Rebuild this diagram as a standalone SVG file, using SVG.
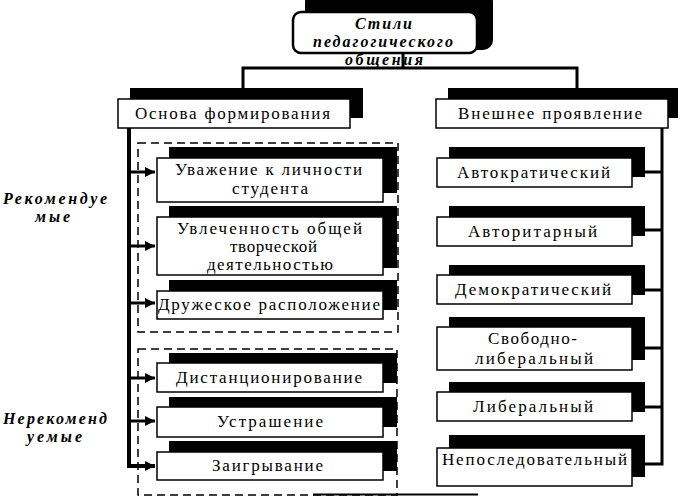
<svg xmlns="http://www.w3.org/2000/svg" width="681" height="498" viewBox="0 0 681 498">
<style>
.sh{fill:#000}
.bx{fill:#fff;stroke:#000;stroke-width:1.5}
.t{font-family:"Liberation Serif","Times New Roman",serif;font-size:17px;fill:#000}
.ti{font-family:"Liberation Serif","Times New Roman",serif;font-size:16px;font-weight:bold;font-style:italic;fill:#000}
.ln{stroke:#000;stroke-width:3;fill:none}
.dash{fill:none;stroke:#000;stroke-width:1.5;stroke-dasharray:8,5}
</style>
<defs>
<marker id="ah" viewBox="0 0 10 10" refX="10" refY="5" markerWidth="10" markerHeight="10" markerUnits="userSpaceOnUse" orient="auto">
<path d="M0,0 L10,5 L0,10 Z" fill="#000"/>
</marker>
</defs>
<rect width="681" height="498" fill="#fff"/>

<g id="connectors">
<line class="ln" x1="403" y1="53" x2="403" y2="68"/>
<polyline class="ln" points="243,88 243,68 577,68 577,88"/>
<polyline points="129,128 129,466 155,466" fill="none" stroke="#000" stroke-width="4" marker-end="url(#ah)"/>
<line class="ln" x1="129" y1="172" x2="155" y2="172" marker-end="url(#ah)"/>
<line class="ln" x1="129" y1="246" x2="155" y2="246" marker-end="url(#ah)"/>
<line class="ln" x1="129" y1="303" x2="155" y2="303" marker-end="url(#ah)"/>
<line class="ln" x1="129" y1="378" x2="155" y2="378" marker-end="url(#ah)"/>
<line class="ln" x1="129" y1="421" x2="155" y2="421" marker-end="url(#ah)"/>
<polyline class="ln" points="662,128 662,464 645,464"/>
<line class="ln" x1="645" y1="172" x2="662" y2="172"/>
<line class="ln" x1="645" y1="230" x2="662" y2="230"/>
<line class="ln" x1="645" y1="290" x2="662" y2="290"/>
<line class="ln" x1="645" y1="348" x2="662" y2="348"/>
<line class="ln" x1="645" y1="407" x2="662" y2="407"/>
<line x1="313" y1="494.5" x2="478" y2="494.5" stroke="#000" stroke-width="2"/>
</g>

<rect class="dash" x="138" y="143" width="260" height="189"/>
<rect class="dash" x="138" y="349" width="259" height="146"/>

<g id="title">
<rect class="sh" x="305" y="-8" width="188" height="58" rx="10"/>
<rect x="293" y="12" width="184" height="41" rx="8" fill="#fff" stroke="#000" stroke-width="2.5"/>
<text class="ti" x="355" y="29" textLength="57" lengthAdjust="spacing">Стили</text>
<text class="ti" x="313" y="47" textLength="140" lengthAdjust="spacing">педагогического</text>
<text class="ti" x="345" y="65" textLength="78" lengthAdjust="spacing">общения</text>
</g>

<g id="h-left">
<rect class="sh" x="130" y="88" width="233" height="30"/>
<rect class="bx" x="118" y="99" width="232" height="29"/>
<text class="t" x="135" y="119" textLength="195" lengthAdjust="spacing">Основа формирования</text>
</g>
<g id="h-right">
<rect class="sh" x="448" y="88" width="230" height="30"/>
<rect class="bx" x="436" y="99" width="232" height="29"/>
<text class="t" x="458" y="119" textLength="184" lengthAdjust="spacing">Внешнее проявление</text>
</g>

<g id="lbl-rec">
<text class="ti" x="3" y="204" textLength="104" lengthAdjust="spacing">Рекомендуе</text>
<text class="ti" x="35" y="222" textLength="35" lengthAdjust="spacing">мые</text>
</g>
<g id="lbl-nrec">
<text class="ti" x="3" y="424" textLength="104" lengthAdjust="spacing">Нерекоменд</text>
<text class="ti" x="27" y="442" textLength="55" lengthAdjust="spacing">уемые</text>
</g>

<g id="l1">
<rect class="sh" x="169" y="147" width="228" height="46"/>
<rect class="bx" x="157" y="158" width="226" height="44"/>
<text class="t" x="175" y="175" textLength="187" lengthAdjust="spacing">Уважение к личности</text>
<text class="t" x="232" y="194" textLength="76" lengthAdjust="spacing">студента</text>
</g>
<g id="l2">
<rect class="sh" x="169" y="206" width="228" height="62"/>
<rect class="bx" x="157" y="217" width="226" height="58"/>
<text class="t" x="177" y="234" textLength="185" lengthAdjust="spacing">Увлеченность общей</text>
<text class="t" x="230" y="252" textLength="87" lengthAdjust="spacing">творческой</text>
<text class="t" x="207" y="270" textLength="126" lengthAdjust="spacing">деятельностью</text>
</g>
<g id="l3">
<rect class="sh" x="169" y="280" width="228" height="30"/>
<rect class="bx" x="157" y="291" width="226" height="28"/>
<text class="t" x="158" y="310" textLength="222" lengthAdjust="spacing">Дружеское расположение</text>
</g>
<g id="l4">
<rect class="sh" x="169" y="353" width="228" height="30"/>
<rect class="bx" x="157" y="363" width="226" height="29"/>
<text class="t" x="176" y="383" textLength="186" lengthAdjust="spacing">Дистанционирование</text>
</g>
<g id="l5">
<rect class="sh" x="169" y="397" width="228" height="30"/>
<rect class="bx" x="157" y="407" width="226" height="30"/>
<text class="t" x="217" y="427" textLength="106" lengthAdjust="spacing">Устрашение</text>
</g>
<g id="l6">
<rect class="sh" x="169" y="441" width="228" height="30"/>
<rect class="bx" x="157" y="452" width="226" height="28"/>
<text class="t" x="212" y="471" textLength="111" lengthAdjust="spacing">Заигрывание</text>
</g>

<g id="r1">
<rect class="sh" x="449" y="147" width="196" height="30"/>
<rect class="bx" x="437" y="158" width="195" height="29"/>
<text class="t" x="457" y="178" textLength="153" lengthAdjust="spacing">Автократический</text>
</g>
<g id="r2">
<rect class="sh" x="449" y="206" width="196" height="30"/>
<rect class="bx" x="437" y="217" width="195" height="29"/>
<text class="t" x="468" y="237" textLength="129" lengthAdjust="spacing">Авторитарный</text>
</g>
<g id="r3">
<rect class="sh" x="449" y="265" width="196" height="30"/>
<rect class="bx" x="437" y="275" width="195" height="29"/>
<text class="t" x="455" y="295" textLength="156" lengthAdjust="spacing">Демократический</text>
</g>
<g id="r4">
<rect class="sh" x="449" y="317" width="196" height="43"/>
<rect class="bx" x="437" y="327" width="195" height="43"/>
<text class="t" x="488" y="344" textLength="89" lengthAdjust="spacing">Свободно-</text>
<text class="t" x="475" y="364" textLength="118" lengthAdjust="spacing">либеральный</text>
</g>
<g id="r5">
<rect class="sh" x="449" y="382" width="196" height="30"/>
<rect class="bx" x="437" y="392" width="195" height="29"/>
<text class="t" x="473" y="412" textLength="120" lengthAdjust="spacing">Либеральный</text>
</g>
<g id="r6">
<rect class="sh" x="449" y="435" width="196" height="42"/>
<rect class="bx" x="437" y="448" width="195" height="38"/>
<text class="t" x="442" y="465" textLength="185" lengthAdjust="spacing">Непоследовательный</text>
</g>
</svg>
